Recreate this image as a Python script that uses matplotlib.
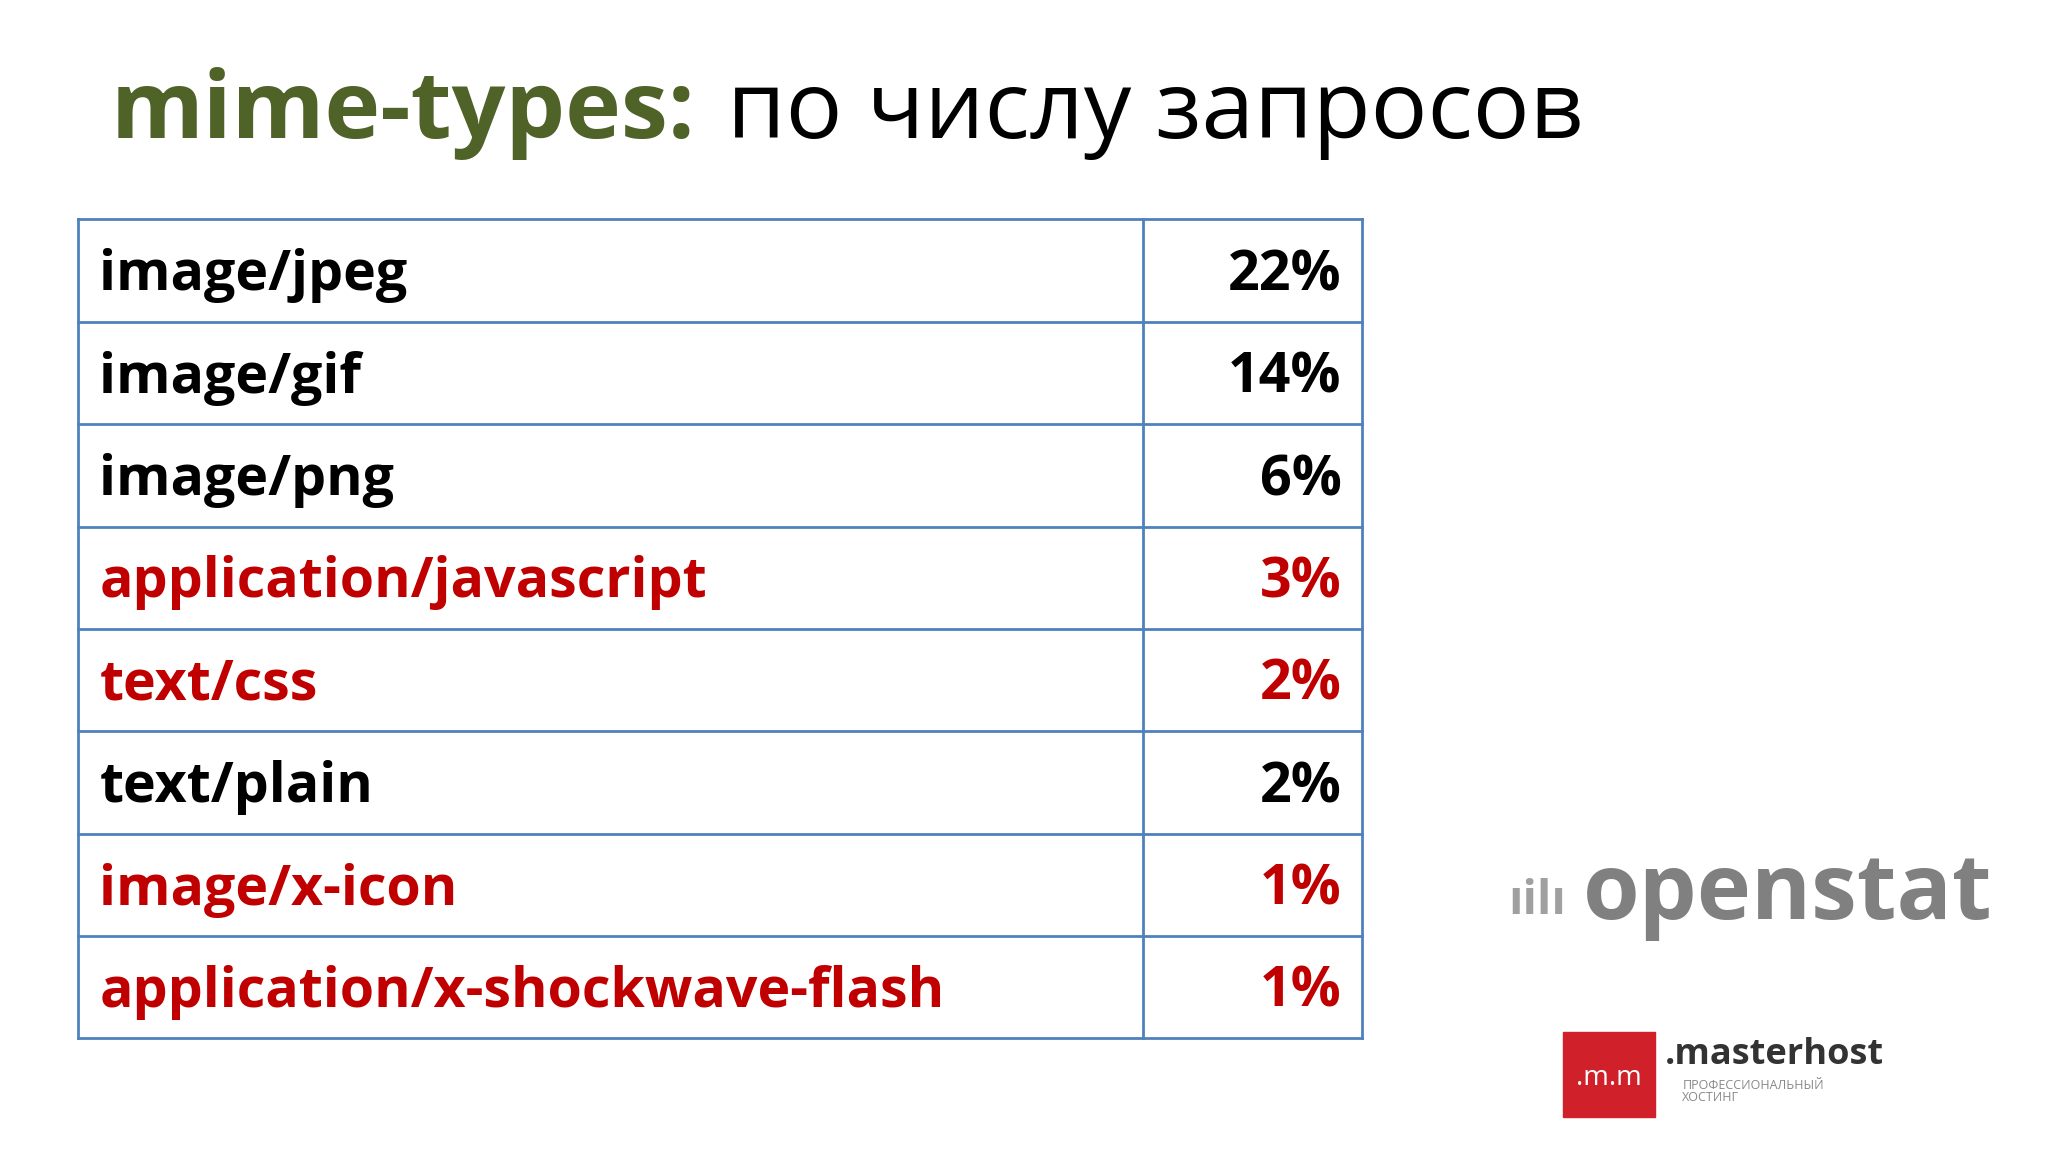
import matplotlib
matplotlib.use("Agg")
import matplotlib.pyplot as plt
from matplotlib.patches import Rectangle

types = ["image/jpeg", "image/gif", "image/png", "application/javascript",
         "text/css", "text/plain", "image/x-icon", "application/x-shockwave-flash"]
shares = [22, 14, 6, 3, 2, 2, 1, 1]
highlight = [False, False, False, True, True, False, True, True]

W, H = 1568, 882
fig = plt.figure(figsize=(20.48, 11.52), dpi=100)
ax = fig.add_axes([0, 0, 1, 1])
ax.set_xlim(0, W); ax.set_ylim(H, 0); ax.axis("off")

fam = ["Open Sans", "DejaVu Sans"]
t1 = ax.text(85, 87, "mime-types:", fontsize=68, fontweight="bold", color="#4f6228",
             family=fam, va="center", ha="left")
fig.canvas.draw()
bb = t1.get_window_extent().transformed(ax.transData.inverted())
x2 = max(bb.x0, bb.x1) + 24
ax.text(x2, 87, "по числу запросов", fontsize=68, color="black",
        family=fam, va="center", ha="left")

left, mid, right, top, bottom = 60, 875, 1043, 168, 795
rh = (bottom - top) / len(types)
blue = "#4f81bd"
for i, (t, s, h) in enumerate(zip(types, shares, highlight)):
    y = top + i * rh
    c = "#c00000" if h else "black"
    ax.text(76, y + rh / 2 + 4, t, fontsize=40, fontweight="bold", color=c,
            family=fam, va="center", ha="left")
    ax.text(1027, y + rh / 2 + 4, f"{s}%", fontsize=40, fontweight="bold", color=c,
            family=fam, va="center", ha="right")
    ax.plot([left, right], [y, y], color=blue, lw=2)
ax.plot([left, right], [bottom, bottom], color=blue, lw=2)
ax.plot([left, left], [top, bottom], color=blue, lw=2)
ax.plot([right, right], [top, bottom], color=blue, lw=2)
ax.plot([mid, mid], [top, bottom], color=blue, lw=2)

# logos
ax.text(1155, 690, "ıilı", fontsize=34, color="#a0a0a0", family=fam,
        va="center", ha="left", fontweight="bold")
ax.text(1212, 685, "openstat", fontsize=66, color="#808080", family=fam,
        va="center", ha="left", fontweight="bold")
ax.add_patch(Rectangle((1197, 790), 70, 65, color="#d0202a"))
ax.text(1232, 825, ".m.m", fontsize=20, color="white", family=fam,
        va="center", ha="center")
ax.text(1275, 808, ".masterhost", fontsize=26, color="#333333", family=fam,
        va="center", ha="left", fontweight="bold")
ax.text(1288, 836, "ПРОФЕССИОНАЛЬНЫЙ\nХОСТИНГ", fontsize=9, color="#888888",
        family=fam, va="center", ha="left", linespacing=0.9)

fig.savefig("out.png", dpi=100)
